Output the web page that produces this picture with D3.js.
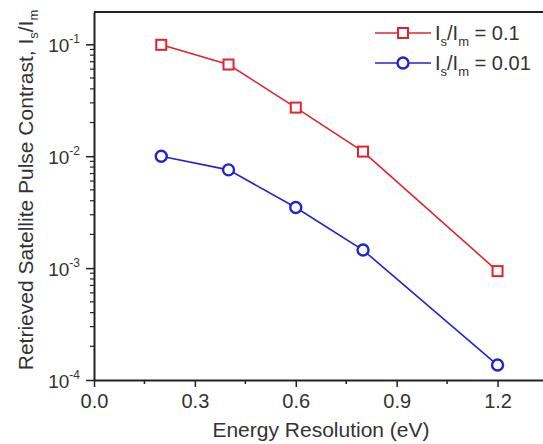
<!DOCTYPE html>
<html>
<head>
<meta charset="utf-8">
<script src="https://cdn.jsdelivr.net/npm/d3@7"></script>
<style>
  body { margin: 0; background: #fff; }
  text { font-family: "Liberation Sans", Arial, sans-serif; fill: #333; }
</style>
</head>
<body>
<div id="chart"></div>
<script>
// data
let energy = [0.2, 0.4, 0.6, 0.8, 1.2];
let ratio01 = [0.099, 0.066, 0.0272, 0.011, 0.00094];
let ratio001 = [0.0100, 0.00755, 0.00348, 0.00145, 0.000136];
let xTicks = [0.0, 0.3, 0.6, 0.9, 1.2];
let yTicks = [1e-4, 1e-3, 1e-2, 1e-1];
let yExp = ["-4", "-3", "-2", "-1"];

let W = 543, H = 444;
let margin = {top: 12, left: 94, bottom: 64, right: -5};

let svg = d3.select("#chart").append("svg").attr("width", W).attr("height", H);

let x = d3.scaleLinear().domain([0, 1.35]).range([margin.left, W - margin.right]);
let y = d3.scaleLog().domain([1e-4, 0.1945]).range([H - margin.bottom, margin.top]);

// frame
svg.append("line").attr("x1", margin.left).attr("x2", W).attr("y1", margin.top).attr("y2", margin.top)
  .attr("stroke", "#222").attr("stroke-width", 2);

// x axis
let xMinor = d3.range(0.15, 1.35, 0.3);
let xg = svg.append("g").attr("transform", `translate(0,${y(1e-4)})`);
xg.call(d3.axisBottom(x).tickValues(xTicks).tickFormat(d3.format(".1f")).tickSize(7).tickPadding(7).tickSizeOuter(0));
xg.select(".domain").attr("stroke", "#222").attr("stroke-width", 2);
xg.selectAll(".tick line").attr("stroke", "#222").attr("stroke-width", 1.5);
xg.selectAll(".tick text").attr("font-size", 20).style("fill", "#333");
xg.selectAll(".minor").data(xMinor).enter().append("line")
  .attr("x1", d => x(d)).attr("x2", d => x(d)).attr("y1", 0).attr("y2", 4)
  .attr("stroke", "#222").attr("stroke-width", 1.5);

// y axis
let yg = svg.append("g").attr("transform", `translate(${x(0)},0)`);
yg.call(d3.axisLeft(y).tickValues(yTicks).tickFormat("").tickSize(8).tickSizeOuter(0));
yg.select(".domain").attr("stroke", "#222").attr("stroke-width", 2);
yg.selectAll(".tick line").attr("stroke", "#222").attr("stroke-width", 1.5);
let yMinor = [];
[1e-4, 1e-3, 1e-2, 1e-1].forEach(function(b) {
  for (let k = 2; k <= 9; k++) { if (b * k <= 0.1945) yMinor.push(b * k); }
});
yg.selectAll(".minor").data(yMinor).enter().append("line")
  .attr("x1", -4).attr("x2", 0).attr("y1", d => y(d)).attr("y2", d => y(d))
  .attr("stroke", "#222").attr("stroke-width", 1.2);

let ylab = yg.selectAll(".ylab").data(yTicks).enter().append("text")
  .attr("x", -14).attr("y", d => y(d) + 8).attr("text-anchor", "end").attr("font-size", 19);
ylab.append("tspan").text("10");
ylab.append("tspan").attr("dy", -9).attr("font-size", 12).text((d, i) => yExp[i]);

// axis titles
svg.append("text").attr("x", 321).attr("y", 437)
  .attr("text-anchor", "middle").attr("font-size", 21).text("Energy Resolution (eV)");

let yt = svg.append("text").attr("transform", "translate(33,190) rotate(-90)")
  .attr("text-anchor", "middle").attr("font-size", 21);
yt.append("tspan").text("Retrieved Satellite Pulse Contrast, I");
yt.append("tspan").attr("font-size", 13).attr("dy", 5).text("s");
yt.append("tspan").attr("dy", -5).text("/I");
yt.append("tspan").attr("font-size", 13).attr("dy", 5).text("m");

// series
let series = [
  {vals: ratio01, color: "#e0242c", shape: "square", label: "0.1"},
  {vals: ratio001, color: "#2424cc", shape: "circle", label: "0.01"}
];

let line = d3.line().x(d => x(d[0])).y(d => y(d[1]));

series.forEach(function(s) {
  let pts = energy.map((e, i) => [e, s.vals[i]]);
  svg.append("path").datum(pts).attr("d", line).attr("fill", "none")
    .attr("stroke", s.color).attr("stroke-width", 1.6);
  if (s.shape == "square") {
    svg.selectAll(null).data(pts).enter().append("rect")
      .attr("x", d => x(d[0]) - 5).attr("y", d => y(d[1]) - 5)
      .attr("width", 10).attr("height", 10)
      .attr("fill", "#fff").attr("stroke", s.color).attr("stroke-width", 2);
  } else {
    svg.selectAll(null).data(pts).enter().append("circle")
      .attr("cx", d => x(d[0])).attr("cy", d => y(d[1])).attr("r", 5.5)
      .attr("fill", "#fff").attr("stroke", s.color).attr("stroke-width", 2.4);
  }
});

// legend
let legendX = 375, legendY = 33, legendGap = 30;
series.forEach(function(s, i) {
  let ly = legendY + i * legendGap;
  svg.append("line").attr("x1", legendX).attr("x2", legendX + 56).attr("y1", ly).attr("y2", ly)
    .attr("stroke", s.color).attr("stroke-width", 1.6);
  if (s.shape == "square") {
    svg.append("rect").attr("x", legendX + 28 - 5).attr("y", ly - 5).attr("width", 10).attr("height", 10)
      .attr("fill", "#fff").attr("stroke", s.color).attr("stroke-width", 2);
  } else {
    svg.append("circle").attr("cx", legendX + 28).attr("cy", ly).attr("r", 5.5)
      .attr("fill", "#fff").attr("stroke", s.color).attr("stroke-width", 2.4);
  }
  let t = svg.append("text").attr("x", legendX + 60).attr("y", ly + 7).attr("font-size", 20);
  t.append("tspan").text("I");
  t.append("tspan").attr("font-size", 13).attr("dy", 6).text("s");
  t.append("tspan").attr("dy", -6).text("/I");
  t.append("tspan").attr("font-size", 13).attr("dy", 6).text("m");
  t.append("tspan").attr("dy", -6).text(" = " + s.label);
});
</script>
</body>
</html>
